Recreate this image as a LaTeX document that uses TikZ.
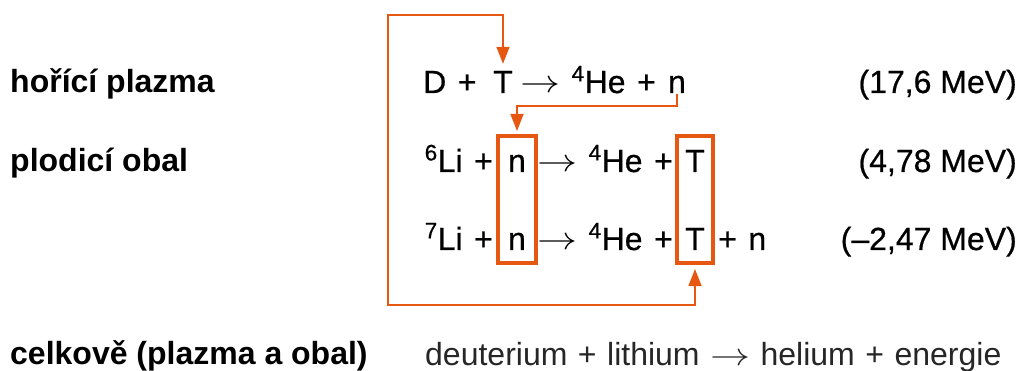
\RequirePackage{fix-cm}
\documentclass[tikz,border=0pt]{standalone}
\usepackage{fontspec}
\setmainfont{Liberation Sans}
\newfontfamily\medfont[FakeBold=0.6]{Liberation Sans}
\usetikzlibrary{arrows.meta}
\definecolor{fusorange}{RGB}{230,88,18}
\newcommand{\iso}[2]{\textsuperscript{#1}#2}
\newcommand{\rarr}{\scalebox{1.25}[1]{\ensuremath{\rightarrow}}}
\newcommand{\eqfont}{\fontsize{32}{38}\medfont\spaceskip 11.5pt\relax}
\newcommand{\enfont}{\fontsize{32}{38}\medfont}
\newcommand{\totfont}{\fontsize{32}{38}\selectfont\spaceskip 10.5pt\relax}
\begin{document}
\begin{tikzpicture}[x=1pt,y=-1pt,
  txt/.style={inner sep=0pt, font=\eqfont},
  entxt/.style={inner sep=0pt, font=\enfont, anchor=base east},
  lbl/.style={inner sep=0pt, font=\fontsize{32}{38}\selectfont\bfseries, anchor=base west},
  boxframe/.style={draw=fusorange, line width=4pt, inner sep=0pt},
  feed/.style={draw=fusorange, line width=1.5pt, -{Triangle[length=17pt,width=13pt]}},
  feedboth/.style={draw=fusorange, line width=1.5pt, {Triangle[length=17pt,width=13pt]}-{Triangle[length=17pt,width=13pt]}}]
\useasboundingbox (0,0) rectangle (1022,371);

% left labels
\node[lbl] (lab1) at (10,93) {hořící plazma};
\node[lbl] (lab2) at (10,172) {plodicí obal};
\node[lbl] (lab3) at (10,364) {celkově (plazma a obal)};

% line 1
\node[txt, anchor=base west] (l1a) at (423,93) {D +};
\node[txt, anchor=base] (l1T) at (503,93) {T};
\node[txt, anchor=base west] (l1b) at (520,93) {\rarr{} \iso{4}{He} +};
\node[txt, anchor=base] (l1n) at (677,93) {n};

% line 2
\node[txt, anchor=base east] (l2a) at (493,172) {\iso{6}{Li} +};
\node[txt, anchor=base] (n2) at (517,172) {n};
\node[txt, anchor=base west] (l2b) at (537,172) {\rarr{} \iso{4}{He} +};
\node[txt, anchor=base] (T2) at (695,172) {T};

% line 3
\node[txt, anchor=base east] (l3a) at (493,250) {\iso{7}{Li} +};
\node[txt, anchor=base] (n3) at (517,250) {n};
\node[txt, anchor=base west] (l3b) at (537,250) {\rarr{} \iso{4}{He} +};
\node[txt, anchor=base] (T3) at (695,250) {T};
\node[txt, anchor=base west] (l3c) at (718,250) {+ n};

% energies
\node[entxt] (e1) at (1017,93) {(17,6 MeV)};
\node[entxt] (e2) at (1017,172) {(4,78 MeV)};
\node[entxt] (e3) at (1017,250) {(–2,47 MeV)};

% overall
\node[inner sep=0pt, anchor=base west, font=\totfont, text=black!85] (tot) at (425,365) {deuterium + lithium \rarr{} helium + energie};

% boxes
\node[boxframe, minimum width=38pt, minimum height=127pt] (nbox) at (517,199.5) {};
\node[boxframe, minimum width=36pt, minimum height=127pt] (tbox) at (695,199.5) {};

% feedback loops
\coordinate (loopbl) at (388,305);
\coordinate (looptl) at (388,15);
\draw[feedboth, shorten <=4pt, shorten >=7pt] (tbox.south) |- (loopbl) -- (looptl) -| (l1T.north);
\draw[feed, shorten >=3pt] ([yshift=-1pt]l1n.south) -- ++(0,12) -| (nbox.north);
\end{tikzpicture}
\end{document}
